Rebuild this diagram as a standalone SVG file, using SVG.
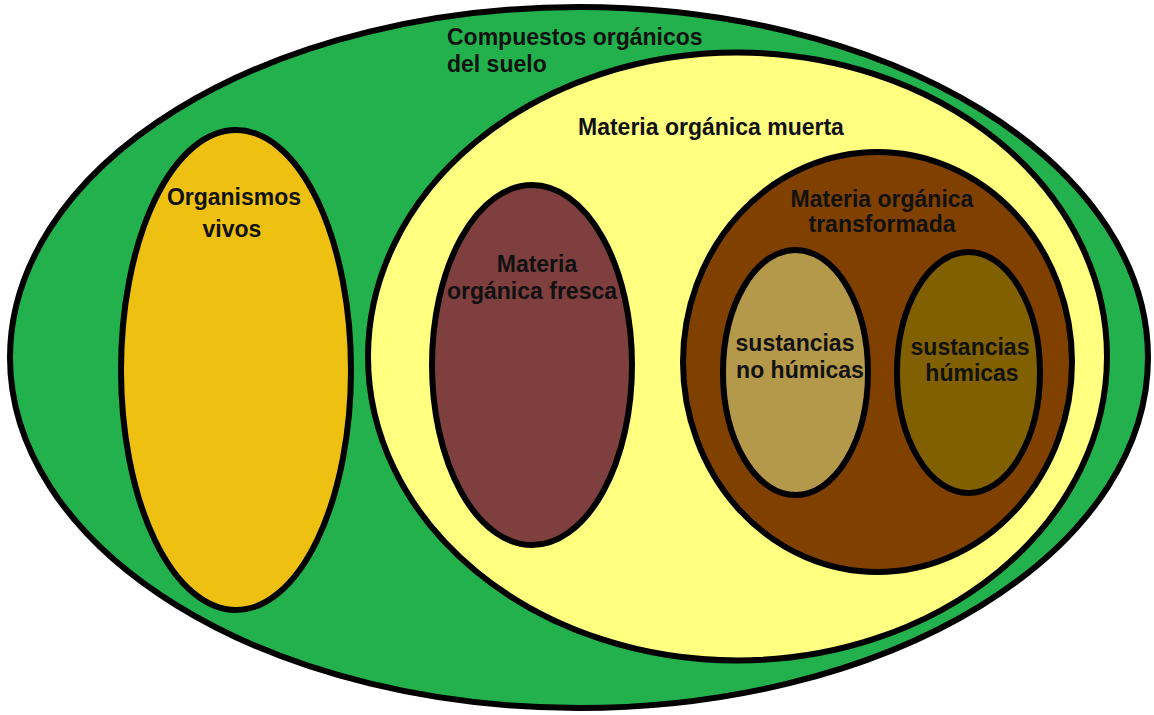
<svg xmlns="http://www.w3.org/2000/svg" width="1154" height="715" viewBox="0 0 1154 715">
<style>
.e{stroke:#000;stroke-width:6}
.t{font-family:"Liberation Sans",Arial,sans-serif;font-weight:bold;font-size:23px;fill:#111}
.m{text-anchor:middle}
</style>
<rect width="1154" height="715" fill="#fff"/>
<g id="compuestos">
<ellipse class="e" cx="579" cy="357.5" rx="569" ry="350.5" fill="#22B14C"/>
<text class="t" x="447" y="45">Compuestos orgánicos</text>
<text class="t" x="447" y="72">del suelo</text>
</g>
<g id="muerta">
<ellipse class="e" cx="737.5" cy="356.5" rx="369.5" ry="304" fill="#FFFF80"/>
<text class="t" x="578" y="135">Materia orgánica muerta</text>
</g>
<g id="vivos">
<ellipse class="e" cx="236" cy="370" rx="115" ry="240" fill="#EDC011"/>
<text class="t m" x="234" y="205">Organismos</text>
<text class="t m" x="232" y="237">vivos</text>
</g>
<g id="fresca">
<ellipse class="e" cx="532" cy="365" rx="100" ry="180" fill="#7F3F3F"/>
<text class="t m" x="537" y="272">Materia</text>
<text class="t m" x="532" y="299">orgánica fresca</text>
</g>
<g id="transformada">
<ellipse class="e" cx="877.5" cy="362" rx="194.5" ry="210" fill="#804000"/>
<text class="t m" x="882" y="207">Materia orgánica</text>
<text class="t m" x="882" y="232">transformada</text>
</g>
<g id="nohumicas">
<ellipse class="e" cx="795.5" cy="372.5" rx="72.5" ry="122.5" fill="#B5994A"/>
<text class="t m" x="795" y="351">sustancias</text>
<text class="t m" x="800" y="378">no húmicas</text>
</g>
<g id="humicas">
<ellipse class="e" cx="968.5" cy="372.5" rx="71.5" ry="120.5" fill="#806000"/>
<text class="t m" x="970" y="355">sustancias</text>
<text class="t m" x="972" y="381">húmicas</text>
</g>
<g id="connectors"/>
</svg>
